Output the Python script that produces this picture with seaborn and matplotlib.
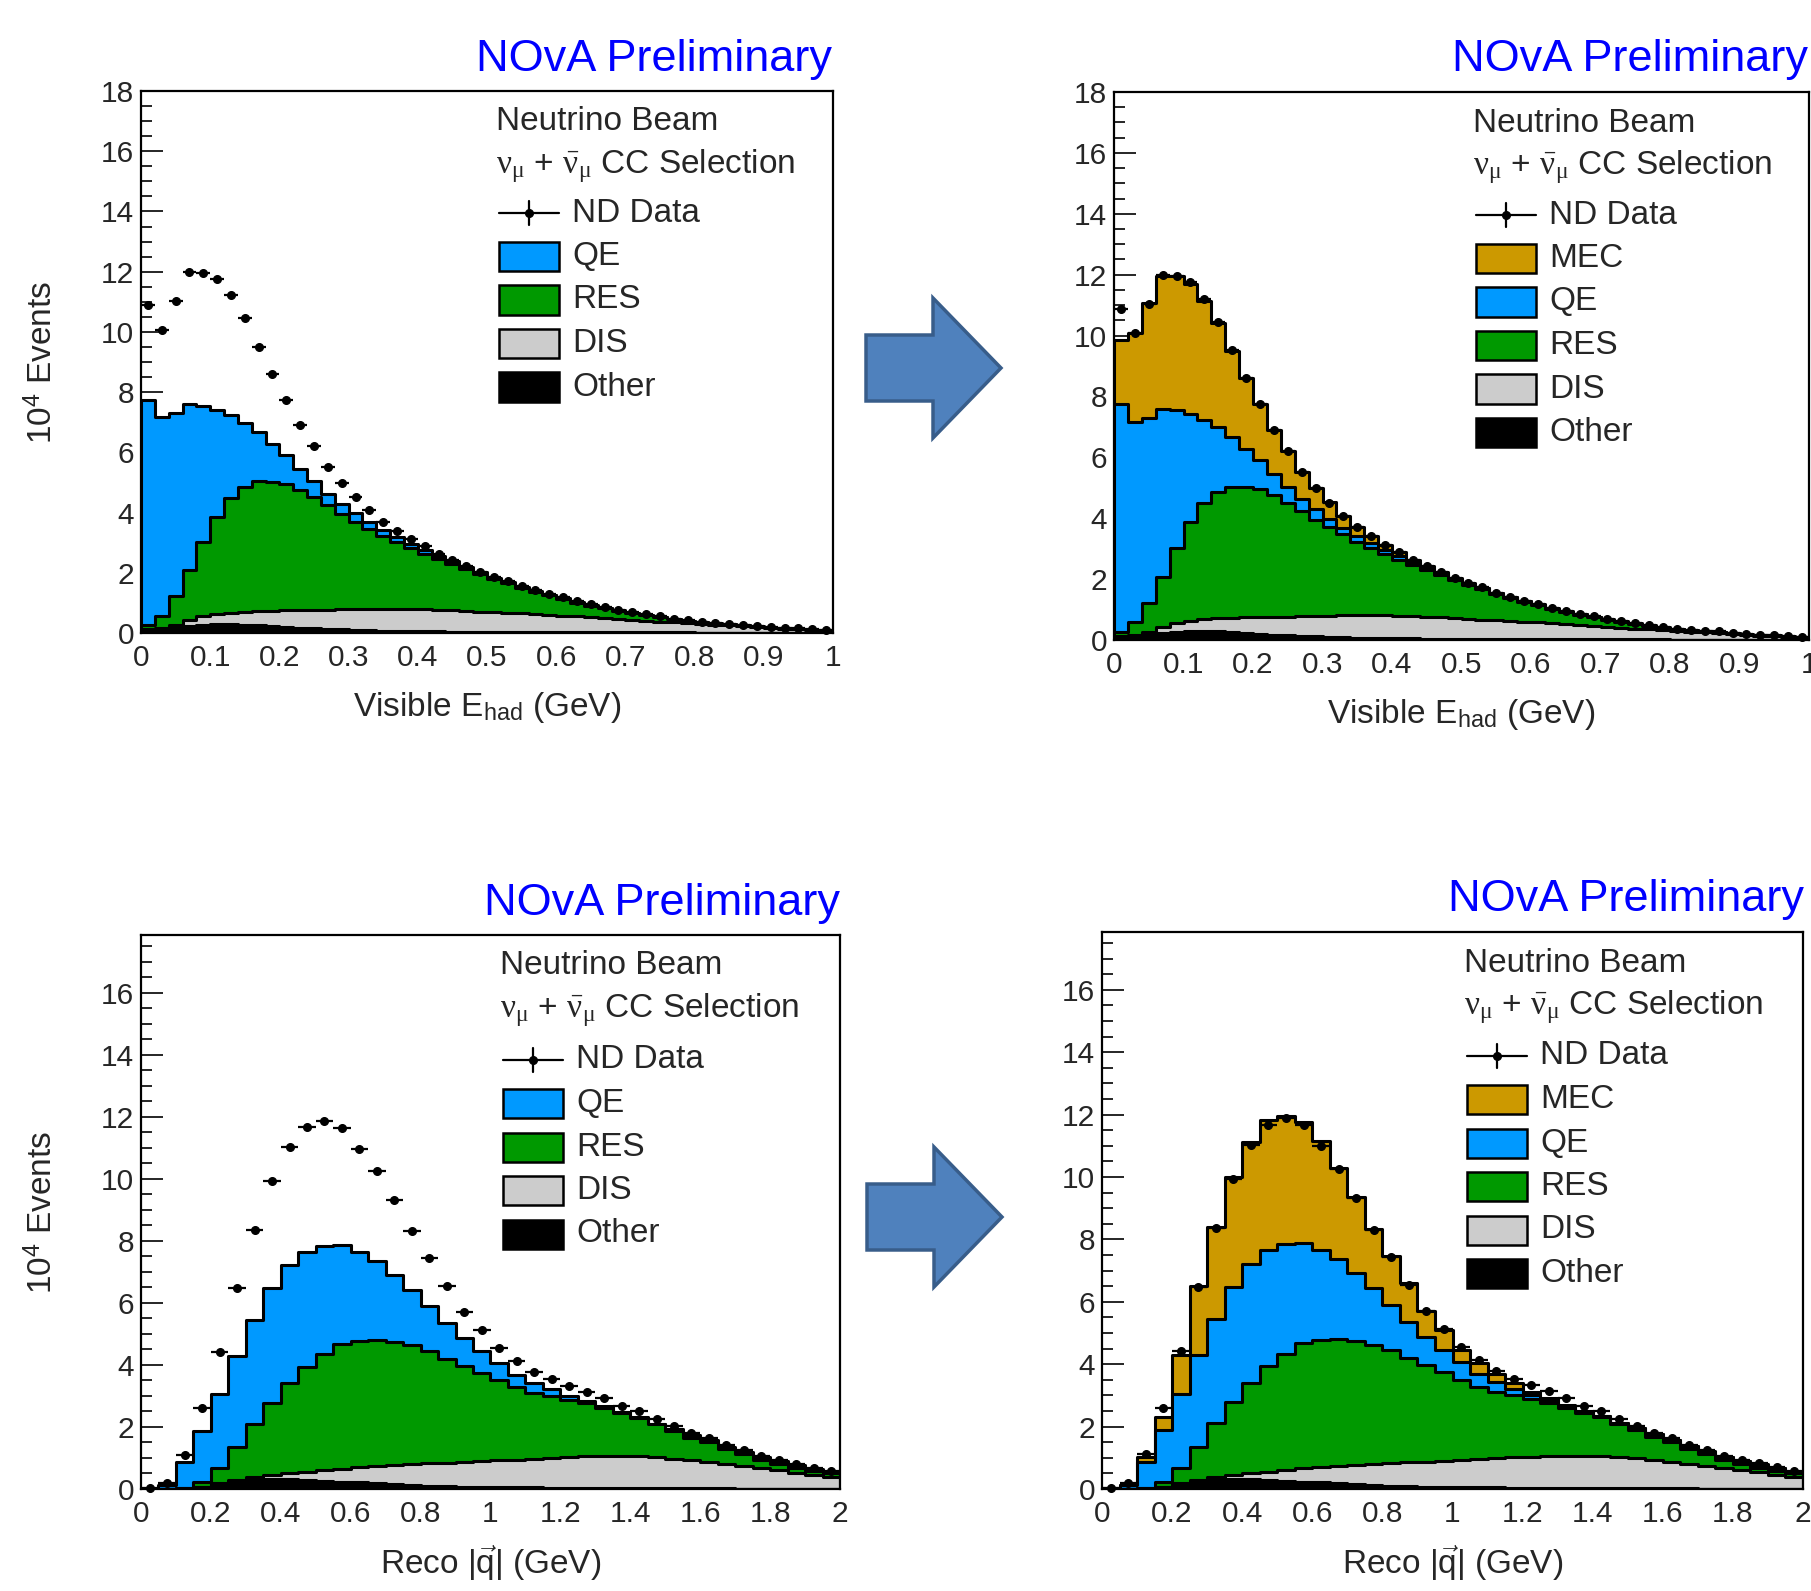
import numpy as np
import pandas as pd
import matplotlib
matplotlib.use("Agg")
import matplotlib.pyplot as plt
import seaborn as sns
from matplotlib.patches import Rectangle, Polygon
from matplotlib.lines import Line2D
from matplotlib.ticker import MultipleLocator, FormatStrFormatter

# Binning
ehad_edges = np.linspace(0, 1, 51)
q3_edges = np.linspace(0, 2, 41)

# Visible E_had panels (10^4 events). Stack values are the height of the top of each layer
ehad_data = [10.88, 10.07, 11.04, 12.00, 11.96, 11.76, 11.21, 10.46, 9.51, 8.59,
             7.74, 6.91, 6.21, 5.51, 4.98, 4.51, 4.08, 3.70, 3.40, 3.11,
             2.89, 2.62, 2.44, 2.24, 2.04, 1.86, 1.73, 1.56, 1.42, 1.29,
             1.18, 1.05, 0.95, 0.86, 0.78, 0.69, 0.62, 0.55, 0.48, 0.42,
             0.37, 0.33, 0.31, 0.28, 0.23, 0.19, 0.17, 0.15, 0.12, 0.11]
ehad_mec_top = [9.85, 10.10, 11.06, 11.95, 11.95, 11.70, 11.15, 10.42, 9.50, 8.60,
                7.75, 6.90, 6.22, 5.52, 5.00, 4.52, 4.08, 3.70, 3.40, 3.11,
                2.89, 2.63, 2.44, 2.23, 2.04, 1.86, 1.72, 1.56, 1.42, 1.29,
                1.17, 1.05, 0.95, 0.86, 0.77, 0.69, 0.62, 0.55, 0.48, 0.42,
                0.37, 0.33, 0.30, 0.27, 0.23, 0.19, 0.17, 0.15, 0.12, 0.11]
ehad_qe_top = [7.74, 7.17, 7.29, 7.59, 7.55, 7.41, 7.23, 6.99, 6.67, 6.28,
               5.91, 5.46, 5.04, 4.63, 4.30, 3.98, 3.68, 3.42, 3.18, 2.95,
               2.76, 2.56, 2.38, 2.19, 2.01, 1.84, 1.70, 1.54, 1.40, 1.27,
               1.16, 1.03, 0.93, 0.84, 0.76, 0.67, 0.60, 0.53, 0.47, 0.41,
               0.36, 0.32, 0.30, 0.27, 0.22, 0.18, 0.16, 0.14, 0.11, 0.10]
ehad_res_top = [0.25, 0.58, 1.22, 2.08, 3.01, 3.86, 4.49, 4.86, 5.04, 5.01,
                4.95, 4.75, 4.51, 4.25, 3.94, 3.70, 3.47, 3.23, 3.03, 2.83,
                2.62, 2.46, 2.29, 2.12, 1.96, 1.80, 1.66, 1.51, 1.37, 1.25,
                1.14, 1.01, 0.91, 0.82, 0.74, 0.66, 0.59, 0.52, 0.46, 0.40,
                0.35, 0.31, 0.29, 0.26, 0.21, 0.17, 0.15, 0.13, 0.10, 0.09]
ehad_dis_top = [0.12, 0.16, 0.25, 0.42, 0.55, 0.63, 0.68, 0.71, 0.73, 0.74,
                0.75, 0.76, 0.77, 0.78, 0.79, 0.80, 0.81, 0.81, 0.81, 0.81,
                0.80, 0.78, 0.76, 0.74, 0.71, 0.69, 0.67, 0.65, 0.63, 0.60,
                0.58, 0.55, 0.52, 0.49, 0.46, 0.43, 0.40, 0.37, 0.35, 0.32,
                0.30, 0.27, 0.25, 0.22, 0.19, 0.16, 0.14, 0.12, 0.09, 0.07]
ehad_other_top = [0.05, 0.10, 0.16, 0.22, 0.27, 0.30, 0.30, 0.28, 0.26, 0.23,
                  0.20, 0.18, 0.16, 0.14, 0.12, 0.10, 0.09, 0.08, 0.07, 0.06,
                  0.05, 0.05, 0.04, 0.04, 0.03, 0.03, 0.03, 0.02, 0.02, 0.02,
                  0.02, 0.02, 0.02, 0.02, 0.02, 0.02, 0.02, 0.02, 0.02, 0.02,
                  0.01, 0.01, 0.01, 0.01, 0.01, 0.01, 0.01, 0.01, 0.01, 0.01]

# Reco |q| panels
q3_data = [0.02, 0.18, 1.11, 2.60, 4.43, 6.47, 8.35, 9.94, 11.02, 11.68,
           11.88, 11.66, 10.98, 10.26, 9.32, 8.31, 7.45, 6.55, 5.71, 5.12,
           4.56, 4.13, 3.78, 3.54, 3.32, 3.14, 2.92, 2.67, 2.51, 2.25,
           2.03, 1.81, 1.63, 1.41, 1.25, 1.07, 0.93, 0.82, 0.69, 0.57]
q3_mec_top = [0.02, 0.14, 1.01, 2.30, 4.31, 6.49, 8.39, 10.00, 11.13, 11.81,
              11.96, 11.75, 11.15, 10.30, 9.37, 8.33, 7.46, 6.61, 5.71, 5.08,
              4.46, 4.03, 3.70, 3.41, 3.11, 2.92, 2.69, 2.50, 2.34, 2.12,
              1.96, 1.76, 1.58, 1.38, 1.21, 1.04, 0.91, 0.79, 0.67, 0.56]
q3_qe_top = [0.02, 0.12, 0.87, 1.88, 3.05, 4.29, 5.45, 6.47, 7.21, 7.66,
             7.84, 7.88, 7.66, 7.37, 6.91, 6.43, 5.90, 5.35, 4.87, 4.45,
             4.06, 3.68, 3.42, 3.21, 3.01, 2.85, 2.67, 2.49, 2.33, 2.11,
             1.95, 1.75, 1.57, 1.37, 1.20, 1.03, 0.90, 0.78, 0.66, 0.55]
q3_res_top = [0.00, 0.01, 0.03, 0.24, 0.68, 1.35, 2.10, 2.79, 3.41, 3.95,
              4.34, 4.67, 4.79, 4.80, 4.75, 4.63, 4.45, 4.20, 3.97, 3.74,
              3.50, 3.28, 3.11, 3.00, 2.87, 2.76, 2.60, 2.44, 2.30, 2.09,
              1.88, 1.66, 1.50, 1.29, 1.12, 0.93, 0.80, 0.68, 0.57, 0.50]
q3_dis_top = [0.00, 0.00, 0.02, 0.08, 0.20, 0.30, 0.38, 0.45, 0.51, 0.56,
              0.61, 0.66, 0.70, 0.74, 0.77, 0.80, 0.83, 0.85, 0.87, 0.89,
              0.92, 0.95, 0.98, 1.01, 1.04, 1.06, 1.07, 1.07, 1.05, 1.02,
              0.98, 0.92, 0.86, 0.80, 0.74, 0.67, 0.60, 0.53, 0.46, 0.40]
q3_other_top = [0.00, 0.00, 0.01, 0.05, 0.15, 0.25, 0.30, 0.32, 0.32, 0.30,
                0.27, 0.24, 0.21, 0.18, 0.15, 0.13, 0.11, 0.09, 0.08, 0.07,
                0.06, 0.05, 0.05, 0.04, 0.04, 0.03, 0.03, 0.03, 0.02, 0.02,
                0.02, 0.02, 0.02, 0.02, 0.01, 0.01, 0.01, 0.01, 0.01, 0.01]

colors = {"MEC": "#cc9900", "QE": "#0099ff", "RES": "#009900", "DIS": "#cccccc", "Other": "#000000"}

sns.set_style("ticks")
plt.rcParams["font.family"] = ["Liberation Sans", "DejaVu Sans"]
# upright serif greek (like ROOT's symbol font)
plt.rcParams["mathtext.fontset"] = "custom"
plt.rcParams["mathtext.rm"] = "Liberation Serif"
plt.rcParams["mathtext.it"] = "Liberation Serif:italic"
plt.rcParams["mathtext.bf"] = "Liberation Serif:bold"

W, H = 1811, 1591
fig = plt.figure(figsize=(W / 100, H / 100), dpi=100)


def fx(x):
    return x / W


def fy(y):
    return 1 - y / H


def draw_panel(box, edges, data, layers, ymax, xstep, xlabel, xlab_y, show_ylabel):
    left, top, right, bottom = box
    ax = fig.add_axes([fx(left), fy(bottom), fx(right) - fx(left), fy(top) - fy(bottom)])
    centers = (edges[:-1] + edges[1:]) / 2
    # draw tallest layer first so lower layers sit on top of it
    for name, heights in layers:
        df = pd.DataFrame({"x": centers, "w": heights})
        sns.histplot(data=df, x="x", weights="w", bins=edges.tolist(), element="step", fill=True,
                     color=colors[name], alpha=1, edgecolor="black", linewidth=2.2, ax=ax)
    bw = edges[1] - edges[0]
    ax.errorbar(centers, data, xerr=bw / 2, fmt="o", color="black", ms=5.5,
                elinewidth=1.6, capsize=0, zorder=5, clip_on=False)
    ax.set_xlim(edges[0], edges[-1])
    ax.set_ylim(0, ymax)
    ax.set_xlabel("")
    ax.set_ylabel("")
    ax.yaxis.set_major_locator(MultipleLocator(2))
    ax.yaxis.set_minor_locator(MultipleLocator(0.5))
    ax.xaxis.set_major_locator(MultipleLocator(xstep))
    ax.xaxis.set_major_formatter(FormatStrFormatter("%g"))
    ax.tick_params(axis="y", which="major", direction="in", length=16, width=1.4,
                   labelsize=21.5, pad=5)
    ax.tick_params(axis="y", which="minor", direction="in", length=8, width=1.4)
    ax.tick_params(axis="x", which="both", length=0, labelsize=21.5, pad=8)
    for sp in ax.spines.values():
        sp.set_linewidth(1.6)
        sp.set_color("black")
    fig.text(fx((left + right) / 2), fy(xlab_y), xlabel, ha="center", va="baseline", fontsize=24)
    if show_ylabel:
        fig.text(fx(43), fy((top + bottom) / 2), r"10$^{\mathregular{4}}$ Events",
                 rotation=90, ha="center", va="center", fontsize=24)
    return ax


def draw_legend(box_x, head_y, entries, text_x, row0, step=43.5):
    head_x = box_x - 3
    fig.text(fx(head_x), fy(head_y), "Neutrino Beam", ha="left", va="center", fontsize=24)
    fig.text(fx(head_x), fy(head_y + 44),
             r"$\mathrm{\nu_{\mu}}$ + $\bar{\mathrm{\nu}}_{\mathrm{\mu}}$ CC Selection",
             ha="left", va="center", fontsize=24)
    for i, name in enumerate(entries):
        y = row0 + i * step
        if name == "ND Data":
            fig.add_artist(Line2D([fx(box_x), fx(box_x + 60)], [fy(y), fy(y)],
                                  transform=fig.transFigure, color="black", lw=1.6))
            fig.add_artist(Line2D([fx(box_x + 30), fx(box_x + 30)], [fy(y - 12), fy(y + 12)],
                                  transform=fig.transFigure, color="black", lw=1.6))
            fig.add_artist(Line2D([fx(box_x + 30)], [fy(y)], transform=fig.transFigure,
                                  marker="o", ms=5.5, color="black"))
        else:
            fig.add_artist(Rectangle((fx(box_x), fy(y + 14.5)), 60 / W, 29 / H,
                                     transform=fig.transFigure, facecolor=colors[name],
                                     edgecolor="black", lw=1.8))
        fig.text(fx(text_x), fy(y), name, ha="left", va="center", fontsize=24)


def draw_arrow(x0, yc):
    pts = [(x0, yc - 33), (x0 + 67, yc - 33), (x0 + 67, yc - 70), (x0 + 135, yc),
           (x0 + 67, yc + 70), (x0 + 67, yc + 33), (x0, yc + 33)]
    fig.add_artist(Polygon([(fx(x), fy(y)) for x, y in pts], closed=True,
                           transform=fig.transFigure, facecolor="#4f81bd",
                           edgecolor="#385d8a", lw=2.5))


ehad_label = r"Visible E$_{\mathregular{had}}$ (GeV)"
q3_label = r"Reco |$\vec{\mathregular{q}}$| (GeV)"
title_kw = dict(ha="right", va="center", fontsize=32.5, color="#0000ff")

# top left
draw_panel((141, 91, 833, 633), ehad_edges, ehad_data,
           [("QE", ehad_qe_top), ("RES", ehad_res_top), ("DIS", ehad_dis_top), ("Other", ehad_other_top)],
           18, 0.1, ehad_label, 716, True)
fig.text(fx(832), fy(59), "NOvA Preliminary", **title_kw)
draw_legend(499, 122, ["ND Data", "QE", "RES", "DIS", "Other"], 572, 213)

# top right
draw_panel((1114, 92, 1809, 640), ehad_edges, ehad_data,
           [("MEC", ehad_mec_top), ("QE", ehad_qe_top), ("RES", ehad_res_top),
            ("DIS", ehad_dis_top), ("Other", ehad_other_top)],
           18, 0.1, ehad_label, 723, False)
fig.text(fx(1808), fy(59), "NOvA Preliminary", **title_kw)
draw_legend(1476, 123, ["ND Data", "MEC", "QE", "RES", "DIS", "Other"], 1549, 215)

# bottom left
draw_panel((141, 935, 840, 1489), q3_edges, q3_data,
           [("QE", q3_qe_top), ("RES", q3_res_top), ("DIS", q3_dis_top), ("Other", q3_other_top)],
           17.87, 0.2, q3_label, 1574, True)
fig.text(fx(840), fy(904), "NOvA Preliminary", **title_kw)
draw_legend(503, 966, ["ND Data", "QE", "RES", "DIS", "Other"], 576, 1060)

# bottom right
draw_panel((1102, 932, 1803, 1489), q3_edges, q3_data,
           [("MEC", q3_mec_top), ("QE", q3_qe_top), ("RES", q3_res_top),
            ("DIS", q3_dis_top), ("Other", q3_other_top)],
           17.85, 0.2, q3_label, 1574, False)
fig.text(fx(1804), fy(899), "NOvA Preliminary", **title_kw)
draw_legend(1467, 963, ["ND Data", "MEC", "QE", "RES", "DIS", "Other"], 1540, 1056)

draw_arrow(866, 368)
draw_arrow(867, 1217)

fig.savefig("out.png", dpi=100)
